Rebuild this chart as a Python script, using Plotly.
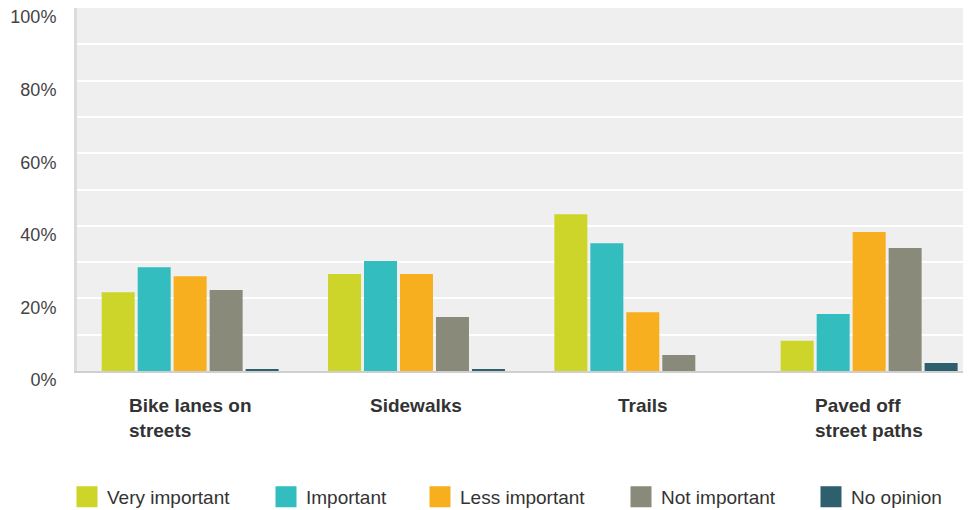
import plotly.graph_objects as go

categories = ["Bike lanes on<br>streets", "Sidewalks", "Trails", "Paved off<br>street paths"]
series_names = ["Very important", "Important", "Less important", "Not important", "No opinion"]
very_important = [21.7, 26.7, 43.2, 8.3]
important = [28.6, 30.3, 35.2, 15.7]
less_important = [26.1, 26.7, 16.2, 38.3]
not_important = [22.3, 14.9, 4.4, 33.9]
no_opinion = [0.3, 0.3, 0.0, 2.2]
y_ticks = [0, 20, 40, 60, 80, 100]
y_tick_labels = ["0%", "20%", "40%", "60%", "80%", "100%"]

series_values = [very_important, important, less_important, not_important, no_opinion]
colors = ["#CDD42A", "#33BDBF", "#F7AF1F", "#8A8A7A", "#2E5F6D"]

# page body has an 8px default margin; the figure is sized to compensate
FIG_W, FIG_H = 963, 502
legend_x_px = [59, 258, 412, 613, 803]
legend_y_px = 489

fig = go.Figure()
for i, (name, vals) in enumerate(zip(series_names, series_values)):
    fig.add_trace(go.Bar(
        x=categories, y=vals, name=name, marker_color=colors[i],
        marker_line_width=0, showlegend=False, hoverinfo="y",
    ))
for i, name in enumerate(series_names):
    lg = "legend" if i == 0 else f"legend{i+1}"
    fig.add_trace(go.Scatter(
        x=[None], y=[None], mode="markers", name=name,
        marker=dict(symbol="square", size=16, color=colors[i],
                    line=dict(color=colors[i], width=5)),
        legend=lg, showlegend=True,
    ))

layout_legends = {}
for i in range(5):
    key = "legend" if i == 0 else f"legend{i+1}"
    layout_legends[key] = dict(
        orientation="h", xref="container", yref="container",
        x=legend_x_px[i] / FIG_W, xanchor="left",
        y=1 - legend_y_px / FIG_H, yanchor="middle",
        font=dict(family="Liberation Sans, Arial, sans-serif", size=19, color="#333333"),
        bgcolor="rgba(0,0,0,0)", itemclick=False,
    )

for cat in categories:
    fig.add_annotation(
        x=cat, xref="x", y=0, yref="paper", yanchor="top", xanchor="center",
        yshift=-22, text=f"<b>{cat}</b>", align="left", showarrow=False,
        font=dict(family="Liberation Sans, Arial, sans-serif", size=19, color="#333333"),
    )

fig.update_layout(
    width=FIG_W, height=FIG_H,
    margin=dict(l=69, r=0, t=0, b=139),
    paper_bgcolor="white", plot_bgcolor="#EFEFEF",
    barmode="group", bargap=0.205, bargroupgap=0.083,
    font=dict(family="Liberation Sans, Arial, sans-serif", size=18, color="#444444"),
    xaxis=dict(
        type="category", range=[-0.5, 3.45], showticklabels=False, ticks="",
        showgrid=False, showline=True, linecolor="#CFCFCF", linewidth=2,
        zeroline=False, fixedrange=True,
    ),
    yaxis=dict(
        range=[0, 100], tickmode="array", tickvals=y_ticks, ticktext=y_tick_labels,
        showgrid=True, gridcolor="white", gridwidth=2, zeroline=False,
        showline=True, linecolor="#DCDCDC", linewidth=3,
        ticks="", ticklabelstandoff=14, ticklabelshift=9, ticklabeloverflow="allow",
        minor=dict(dtick=10, showgrid=True, gridcolor="white", gridwidth=2),
        tickfont=dict(size=18, color="#444444"), fixedrange=True,
    ),
    **layout_legends,
)

fig.write_html("out.html")
